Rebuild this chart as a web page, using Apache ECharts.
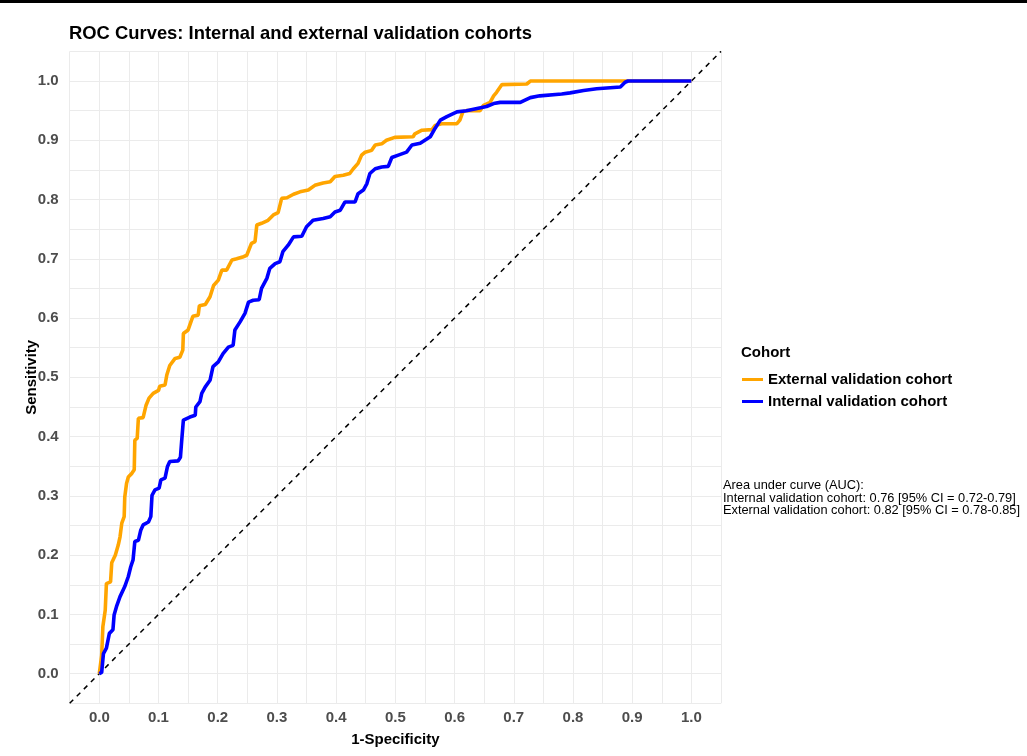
<!DOCTYPE html>
<html lang="en">
<head>
  <meta charset="UTF-8">
  <title>ROC Curves</title>
  <script src="https://cdn.jsdelivr.net/npm/echarts@6/dist/echarts.min.js"></script>
  <style>
    html, body { margin: 0; padding: 0; background: #fff; }
    #chart { width: 1027px; height: 756px; }
  </style>
</head>
<body>
  <div id="chart"></div>

  <script>
    // 1-specificity / sensitivity pairs
    var externalFpr = [0, 0.004, 0.006, 0.010, 0.012, 0.019, 0.021, 0.027, 0.032, 0.035, 0.038, 0.042, 0.043, 0.046, 0.049,
      0.055, 0.059, 0.060, 0.064, 0.066, 0.074, 0.079, 0.084, 0.091, 0.100, 0.102, 0.111, 0.114, 0.119, 0.128, 0.136,
      0.141, 0.142, 0.150, 0.158, 0.167, 0.169, 0.179, 0.187, 0.193, 0.201, 0.207, 0.215, 0.224, 0.232, 0.242, 0.249,
      0.257, 0.263, 0.266, 0.274, 0.285, 0.294, 0.302, 0.308, 0.317, 0.328, 0.339, 0.353, 0.364, 0.378, 0.390, 0.398,
      0.412, 0.423, 0.429, 0.437, 0.443, 0.449, 0.460, 0.466, 0.477, 0.485, 0.499, 0.530, 0.533, 0.545, 0.562, 0.567,
      0.578, 0.604, 0.609, 0.614, 0.620, 0.643, 0.649, 0.660, 0.666, 0.671, 0.680, 0.722, 0.728, 1.0];
    var externalTpr = [0, 0.031, 0.079, 0.107, 0.152, 0.155, 0.187, 0.200, 0.217, 0.231, 0.254, 0.265, 0.298, 0.321, 0.332,
      0.338, 0.344, 0.394, 0.397, 0.431, 0.432, 0.453, 0.465, 0.473, 0.478, 0.485, 0.487, 0.504, 0.520, 0.532, 0.534,
      0.546, 0.574, 0.580, 0.603, 0.605, 0.621, 0.623, 0.636, 0.655, 0.664, 0.681, 0.681, 0.698, 0.700, 0.703, 0.706,
      0.726, 0.729, 0.757, 0.760, 0.765, 0.774, 0.778, 0.802, 0.803, 0.809, 0.813, 0.816, 0.824, 0.828, 0.830, 0.839,
      0.841, 0.844, 0.852, 0.861, 0.875, 0.880, 0.883, 0.892, 0.894, 0.900, 0.905, 0.906, 0.911, 0.917, 0.918, 0.925,
      0.928, 0.928, 0.934, 0.948, 0.950, 0.950, 0.959, 0.964, 0.975, 0.981, 0.994, 0.995, 1.0, 1.0];

    var internalFpr = [0, 0.004, 0.007, 0.012, 0.017, 0.023, 0.025, 0.029, 0.035, 0.043, 0.049, 0.053, 0.057, 0.060, 0.066,
      0.070, 0.074, 0.083, 0.087, 0.089, 0.094, 0.101, 0.104, 0.111, 0.115, 0.119, 0.133, 0.137, 0.139, 0.142, 0.153,
      0.162, 0.163, 0.170, 0.173, 0.179, 0.187, 0.192, 0.201, 0.209, 0.218, 0.226, 0.229, 0.238, 0.246, 0.252, 0.260,
      0.270, 0.274, 0.283, 0.288, 0.297, 0.305, 0.310, 0.319, 0.328, 0.342, 0.350, 0.361, 0.378, 0.390, 0.398, 0.407,
      0.415, 0.432, 0.437, 0.446, 0.452, 0.457, 0.466, 0.477, 0.488, 0.494, 0.505, 0.519, 0.528, 0.542, 0.559, 0.567,
      0.576, 0.587, 0.604, 0.620, 0.654, 0.666, 0.677, 0.711, 0.728, 0.744, 0.781, 0.795, 0.818, 0.840, 0.880, 0.888,
      0.893, 1.0];
    var internalTpr = [0, 0.002, 0.034, 0.043, 0.068, 0.074, 0.099, 0.113, 0.130, 0.147, 0.164, 0.180, 0.192, 0.223, 0.225,
      0.242, 0.251, 0.256, 0.265, 0.301, 0.310, 0.313, 0.327, 0.330, 0.349, 0.358, 0.359, 0.365, 0.391, 0.428, 0.433,
      0.436, 0.450, 0.459, 0.473, 0.484, 0.495, 0.518, 0.526, 0.540, 0.551, 0.554, 0.580, 0.594, 0.608, 0.627, 0.630,
      0.631, 0.650, 0.667, 0.684, 0.692, 0.695, 0.712, 0.723, 0.737, 0.738, 0.754, 0.765, 0.768, 0.771, 0.779, 0.782,
      0.796, 0.796, 0.810, 0.816, 0.827, 0.844, 0.852, 0.855, 0.856, 0.871, 0.875, 0.880, 0.892, 0.895, 0.906, 0.920,
      0.934, 0.940, 0.948, 0.950, 0.957, 0.962, 0.964, 0.964, 0.972, 0.975, 0.978, 0.980, 0.984, 0.987, 0.990, 0.998,
      1.0, 1.0];

    var cohorts = ['External validation cohort', 'Internal validation cohort'];
    var diagonal = [-0.05, 1.05];
    var aucLines = [
      'Area under curve (AUC):',
      'Internal validation cohort: 0.76 [95% CI = 0.72-0.79]',
      'External validation cohort: 0.82 [95% CI = 0.78-0.85]'
    ];

    function pairs(xs, ys) {
      return xs.map(function (x, i) { return [x, ys[i]]; });
    }

    var font = '"Liberation Sans", Arial, sans-serif';

    // labels only on the 0.1 breaks, the 0.05 ones are minor grid only
    function tickFmt(v) {
      var k = Math.round(v * 100);
      if (k < 0 || k > 100 || k % 10 !== 0) return '';
      return (k / 100).toFixed(1);
    }

    function axis(name, gap) {
      return {
        type: 'value',
        min: -0.05,
        max: 1.05,
        interval: 0.05,
        name: name,
        nameLocation: 'middle',
        nameGap: gap,
        nameMoveOverlap: false,
        nameTextStyle: { fontFamily: font, fontWeight: 'bold', fontSize: 15, color: '#000' },
        axisLine: { show: false },
        axisTick: { show: false },
        axisLabel: {
          formatter: tickFmt, fontFamily: font, fontWeight: 'bold', fontSize: 15,
          color: '#4D4D4D', showMinLabel: true, showMaxLabel: true
        },
        splitLine: { show: true, lineStyle: { color: '#EBEBEB', width: 1 } }
      };
    }

    var chart = echarts.init(document.getElementById('chart'));

    var xAxis = axis('1-Specificity', 29);
    xAxis.axisLabel.margin = 7;
    var yAxis = axis('Sensitivity', 30);
    yAxis.axisLabel.margin = 11;

    chart.setOption({
      animation: false,
      backgroundColor: '#fff',
      title: {
        text: 'ROC Curves: Internal and external validation cohorts',
        left: 64, top: 20,
        textStyle: { fontFamily: font, fontWeight: 'bold', fontSize: 18.4, color: '#000' }
      },
      grid: { left: 69.7, right: 306, top: 51.4, bottom: 52.7, containLabel: false },
      xAxis: xAxis,
      yAxis: yAxis,
      legend: {
        data: cohorts,
        orient: 'vertical',
        left: 737, top: 366,
        icon: 'rect',
        itemWidth: 21, itemHeight: 3,
        itemGap: 5,
        textStyle: { fontFamily: font, fontWeight: 'bold', fontSize: 15, color: '#000', lineHeight: 17 }
      },
      graphic: [
        { type: 'rect', left: 0, top: 0, shape: { width: 1027, height: 3 }, style: { fill: '#000' } },
        {
          type: 'text', left: 741, top: 345,
          style: { text: 'Cohort', font: 'bold 15px ' + font, fill: '#000' }
        },
        {
          type: 'text', left: 723, top: 479,
          style: { text: aucLines.join('\n'), font: '12.8px ' + font, fill: '#000', lineHeight: 12.7 }
        }
      ],
      series: [
        {
          name: 'diagonal',
          type: 'line',
          data: pairs(diagonal, diagonal),
          symbol: 'none',
          silent: true,
          lineStyle: { color: '#000', width: 1.5, type: [5, 5] }
        },
        {
          name: cohorts[0],
          type: 'line',
          data: pairs(externalFpr, externalTpr),
          symbol: 'none',
          color: '#FFA500',
          lineStyle: { color: '#FFA500', width: 3.6 }
        },
        {
          name: cohorts[1],
          type: 'line',
          data: pairs(internalFpr, internalTpr),
          symbol: 'none',
          color: '#0000FF',
          lineStyle: { color: '#0000FF', width: 3.6 }
        }
      ]
    });
  </script>
</body>
</html>
